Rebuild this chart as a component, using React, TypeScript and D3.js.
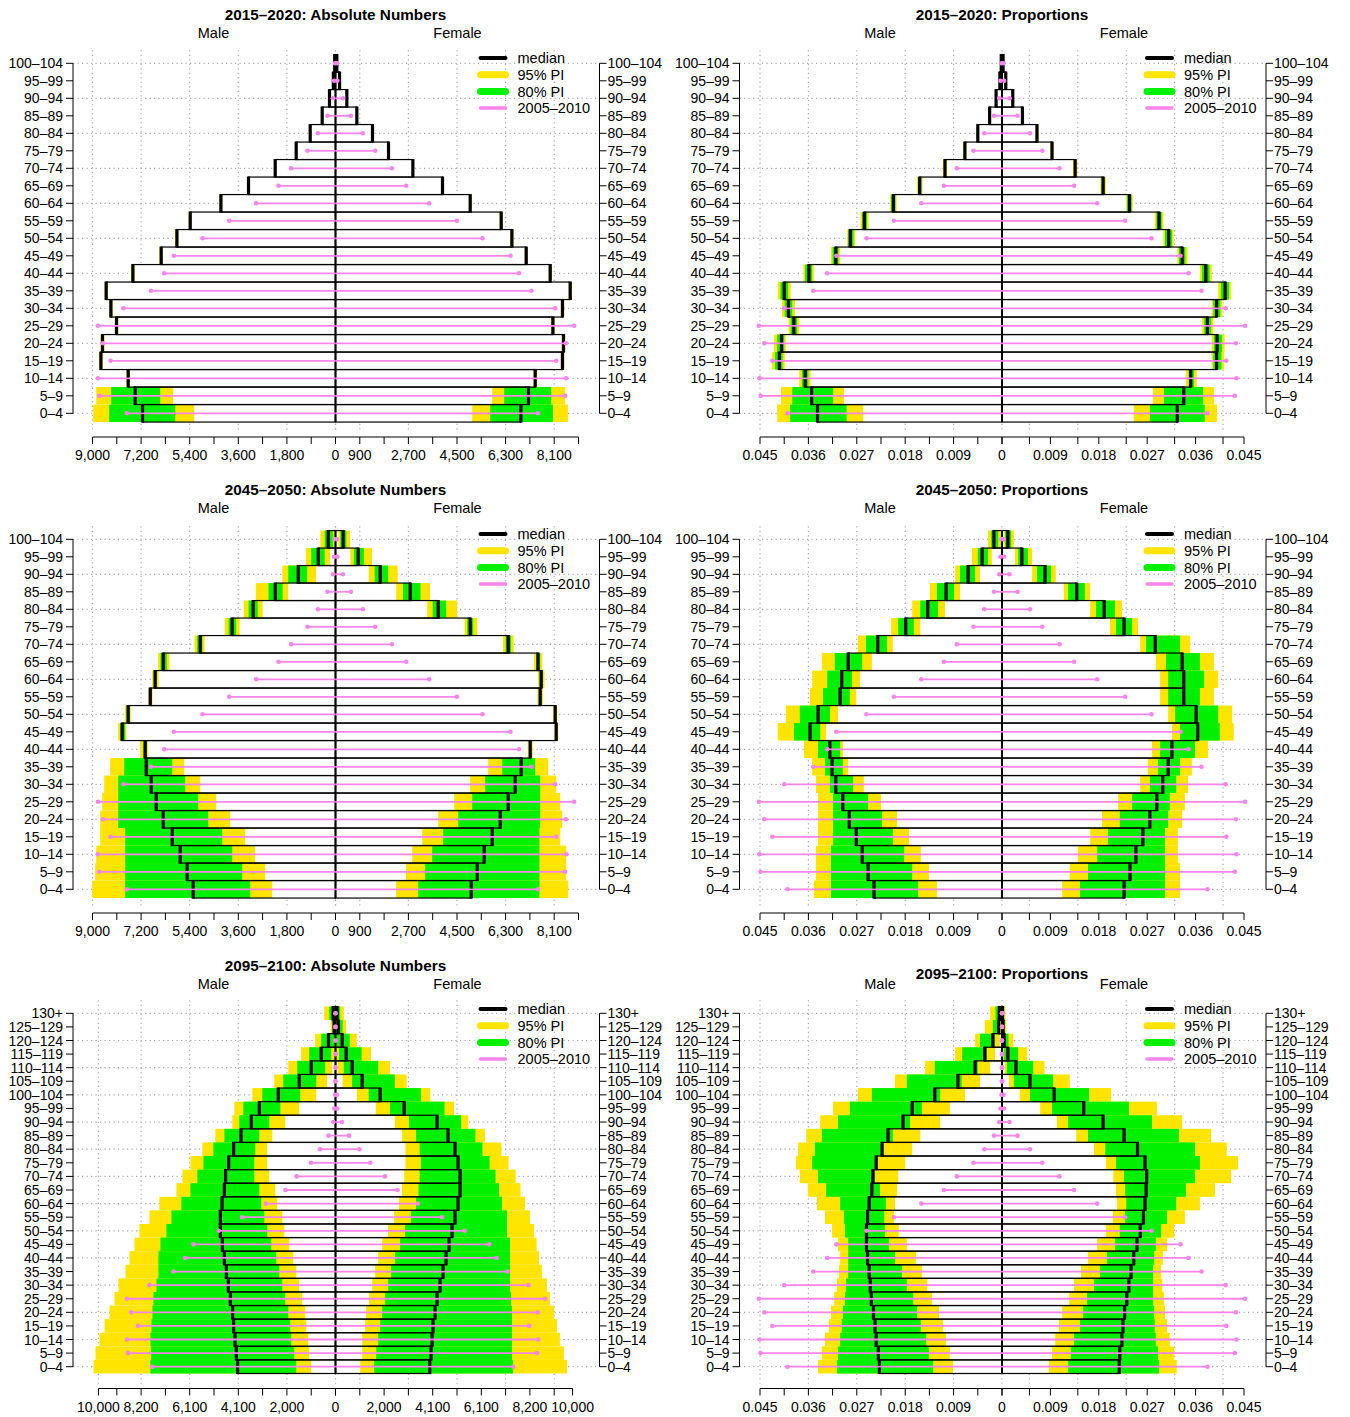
import React, { useRef, useEffect } from "react";
import * as d3 from "d3";

// age groups, youngest first
const ages21 = ["0–4", "5–9", "10–14", "15–19", "20–24", "25–29", "30–34", "35–39", "40–44", "45–49", "50–54",
  "55–59", "60–64", "65–69", "70–74", "75–79", "80–84", "85–89", "90–94", "95–99", "100–104"];
const ages27 = [...ages21, "105–109", "110–114", "115–119", "120–124", "125–129", "130+"];

// each row: [lower 95%, lower 80%, median, upper 80%, upper 95%]
const male2015Abs = [
  [5233, 5937, 7148, 8381, 8974], [6011, 6493, 7419, 8307, 8863], [7610, 7640, 7678, 7715, 7745],
  [8620, 8650, 8689, 8725, 8755], [8560, 8595, 8630, 8665, 8700], [8045, 8075, 8111, 8145, 8175],
  [8250, 8285, 8319, 8355, 8385], [8425, 8460, 8493, 8530, 8560], [7440, 7470, 7504, 7540, 7570],
  [6395, 6425, 6456, 6490, 6520], [5815, 5845, 5874, 5905, 5935], [5325, 5355, 5381, 5410, 5440],
  [4195, 4220, 4244, 4270, 4295], [3180, 3200, 3222, 3245, 3265], [2200, 2215, 2233, 2250, 2268],
  [1425, 1440, 1456, 1472, 1490], [910, 922, 937, 952, 965], [475, 484, 493, 502, 512],
  [210, 216, 222, 228, 235], [72, 76, 80, 85, 90], [25, 27, 30, 33, 36],
];
const female2015Abs = [
  [5063, 5730, 6867, 8052, 8607], [5804, 6248, 7148, 7989, 8507], [7330, 7360, 7396, 7430, 7460],
  [8340, 8375, 8407, 8440, 8470], [8375, 8410, 8444, 8480, 8510], [7985, 8020, 8052, 8085, 8115],
  [8340, 8375, 8407, 8440, 8470], [8625, 8660, 8693, 8725, 8755], [7890, 7920, 7952, 7985, 8015],
  [7005, 7035, 7063, 7095, 7125], [6475, 6505, 6533, 6560, 6590], [6080, 6110, 6137, 6165, 6195],
  [4940, 4965, 4989, 5015, 5040], [3920, 3940, 3963, 3985, 4005], [2830, 2848, 2866, 2885, 2902],
  [1930, 1947, 1963, 1980, 1996], [1340, 1355, 1370, 1385, 1400], [768, 779, 790, 801, 812],
  [405, 412, 420, 428, 436], [138, 144, 150, 156, 163], [42, 46, 50, 54, 58],
];
const male2015Prop = [
  [0.0258, 0.0289, 0.0343, 0.0394, 0.0418], [0.0294, 0.0314, 0.0354, 0.039, 0.0411], [0.0356, 0.036, 0.0366, 0.0372, 0.0377],
  [0.0404, 0.0408, 0.0414, 0.0422, 0.0428], [0.0402, 0.0405, 0.041, 0.0418, 0.0424], [0.0377, 0.0381, 0.0387, 0.0393, 0.0397],
  [0.0385, 0.039, 0.0397, 0.0404, 0.0409], [0.0393, 0.0398, 0.0405, 0.0412, 0.0417], [0.035, 0.0353, 0.0359, 0.0366, 0.0369],
  [0.0301, 0.0304, 0.0309, 0.0315, 0.0318], [0.0273, 0.0276, 0.0282, 0.0286, 0.0288], [0.0248, 0.0251, 0.0256, 0.026, 0.0263],
  [0.0196, 0.0198, 0.0202, 0.0206, 0.0208], [0.0148, 0.015, 0.0153, 0.0156, 0.0158], [0.0102, 0.0104, 0.0106, 0.0108, 0.011],
  [0.0066, 0.0067, 0.0069, 0.0071, 0.0072], [0.0043, 0.0044, 0.0045, 0.0046, 0.0047], [0.0022, 0.00225, 0.0023, 0.0024, 0.0025],
  [0.001, 0.00105, 0.0011, 0.00115, 0.0012], [0.00035, 0.00037, 0.0004, 0.00043, 0.00046], [0.0001, 0.00012, 0.00014, 0.00016, 0.00018],
];
const female2015Prop = [
  [0.0245, 0.0275, 0.0326, 0.0377, 0.04], [0.0281, 0.0301, 0.0338, 0.0374, 0.0394], [0.0342, 0.0347, 0.0351, 0.0357, 0.0362],
  [0.039, 0.0393, 0.0399, 0.0408, 0.0413], [0.039, 0.0394, 0.04, 0.0409, 0.0414], [0.0372, 0.0376, 0.0382, 0.0389, 0.0393],
  [0.039, 0.0393, 0.0399, 0.0406, 0.041], [0.0402, 0.0407, 0.0415, 0.0422, 0.0426], [0.0368, 0.0372, 0.0379, 0.0386, 0.039],
  [0.0326, 0.0329, 0.0335, 0.0341, 0.0345], [0.03, 0.0303, 0.031, 0.0316, 0.0319], [0.0284, 0.0287, 0.0292, 0.0297, 0.03],
  [0.0231, 0.0233, 0.0237, 0.0241, 0.0243], [0.0183, 0.0185, 0.0188, 0.0191, 0.0193], [0.0132, 0.0134, 0.0136, 0.0138, 0.014],
  [0.009, 0.0091, 0.0093, 0.0095, 0.0096], [0.0063, 0.0064, 0.0065, 0.0067, 0.0068], [0.0036, 0.0037, 0.0038, 0.0039, 0.004],
  [0.0019, 0.00195, 0.002, 0.0021, 0.0022], [0.0006, 0.00065, 0.0007, 0.00075, 0.0008], [0.00015, 0.00018, 0.0002, 0.00023, 0.00026],
];

const male2045Abs = [
  [2344, 3159, 5270, 7789, 9011], [2604, 3456, 5493, 7789, 8900], [2974, 3826, 5752, 7789, 8863],
  [3344, 4196, 6048, 7789, 8715], [3900, 4715, 6381, 8048, 8715], [4419, 5085, 6641, 8048, 8641],
  [5011, 5567, 6826, 8048, 8567], [5604, 6048, 7011, 7826, 8344], [6937, 7000, 7048, 7120, 7230],
  [7750, 7790, 7900, 7980, 8050], [7580, 7630, 7680, 7740, 7790], [6780, 6820, 6860, 6900, 6940],
  [6550, 6620, 6680, 6730, 6790], [6150, 6250, 6380, 6480, 6570], [4850, 4930, 5010, 5120, 5220],
  [3550, 3680, 3830, 3960, 4100], [2700, 2880, 3050, 3220, 3400], [1750, 1960, 2230, 2480, 2950],
  [720, 1050, 1380, 1750, 1970], [200, 400, 640, 900, 1100], [20, 100, 270, 400, 560],
];
const female2045Abs = [
  [2241, 3063, 5026, 7552, 8619], [2611, 3322, 5248, 7552, 8544], [2841, 3581, 5507, 7552, 8544],
  [3211, 3989, 5804, 7552, 8322], [3804, 4544, 6100, 7581, 8396], [4396, 5063, 6396, 7581, 8322],
  [4989, 5544, 6656, 7581, 8174], [5656, 6174, 6878, 7396, 7878], [7120, 7170, 7211, 7260, 7300],
  [8110, 8150, 8174, 8210, 8250], [8060, 8100, 8137, 8170, 8210], [7480, 7530, 7581, 7630, 7680],
  [7500, 7560, 7619, 7680, 7740], [7350, 7430, 7500, 7580, 7660], [6200, 6300, 6396, 6500, 6600],
  [4780, 4880, 4989, 5100, 5250], [3400, 3600, 3804, 4100, 4500], [2250, 2500, 2767, 3150, 3500],
  [1230, 1450, 1656, 1950, 2300], [550, 680, 840, 1050, 1350], [110, 180, 285, 400, 540],
];
const male2045Prop = [
  [0.0121, 0.0156, 0.0238, 0.0318, 0.035], [0.0136, 0.0167, 0.0249, 0.0318, 0.0346], [0.0151, 0.0182, 0.026, 0.0318, 0.0346],
  [0.0173, 0.0203, 0.0271, 0.0314, 0.0342], [0.0195, 0.0223, 0.0284, 0.0314, 0.0342], [0.0225, 0.0249, 0.0296, 0.0314, 0.0342],
  [0.0257, 0.0277, 0.0309, 0.032, 0.0346], [0.0286, 0.0296, 0.0316, 0.0329, 0.0353], [0.0296, 0.0301, 0.032, 0.0342, 0.0368],
  [0.0327, 0.0338, 0.0357, 0.0387, 0.0417], [0.0305, 0.032, 0.0342, 0.0376, 0.0402], [0.0271, 0.0283, 0.0301, 0.0333, 0.0357],
  [0.0264, 0.0279, 0.0298, 0.0325, 0.0353], [0.0242, 0.026, 0.0286, 0.0311, 0.0335], [0.0203, 0.0214, 0.0231, 0.0253, 0.0268],
  [0.0152, 0.0164, 0.0179, 0.0193, 0.0206], [0.0106, 0.0119, 0.0138, 0.0152, 0.0167], [0.0078, 0.0089, 0.0104, 0.0121, 0.0134],
  [0.0041, 0.005, 0.0063, 0.0078, 0.0087], [0.0019, 0.0026, 0.0037, 0.0045, 0.0056], [0.0001, 0.0007, 0.0015, 0.002, 0.0026],
];
const female2045Prop = [
  [0.0112, 0.0145, 0.0227, 0.0303, 0.0331], [0.0126, 0.016, 0.0238, 0.0303, 0.0331], [0.0141, 0.0177, 0.0249, 0.0303, 0.0327],
  [0.0164, 0.0197, 0.0262, 0.0303, 0.0327], [0.0186, 0.0219, 0.0275, 0.0309, 0.0335], [0.0216, 0.0242, 0.0288, 0.0312, 0.034],
  [0.0257, 0.0275, 0.0299, 0.0324, 0.0346], [0.0271, 0.029, 0.0309, 0.0331, 0.0353], [0.0279, 0.0294, 0.0316, 0.0359, 0.0383],
  [0.0316, 0.0331, 0.0364, 0.0405, 0.0431], [0.0309, 0.0322, 0.0361, 0.0402, 0.0428], [0.0294, 0.0309, 0.0338, 0.0368, 0.0394],
  [0.0294, 0.0309, 0.0338, 0.0376, 0.0402], [0.0286, 0.0305, 0.0335, 0.0368, 0.0394], [0.0257, 0.0268, 0.0285, 0.0331, 0.035],
  [0.0201, 0.0212, 0.0227, 0.0242, 0.0253], [0.0164, 0.0175, 0.019, 0.021, 0.0223], [0.0115, 0.0123, 0.0139, 0.0154, 0.0164],
  [0.0056, 0.0065, 0.008, 0.0091, 0.01], [0.0024, 0.003, 0.0037, 0.0048, 0.0056], [0.0004, 0.0006, 0.0011, 0.0017, 0.0022],
];

const male2095Abs = [
  [1024, 1656, 4128, 7806, 10206], [1108, 1740, 4183, 7776, 10122], [1150, 1866, 4238, 7806, 9954],
  [1234, 1908, 4297, 7763, 9743], [1276, 1992, 4339, 7721, 9533], [1403, 2119, 4436, 7679, 9322],
  [1529, 2245, 4520, 7553, 9154], [1655, 2372, 4604, 7468, 8859], [1782, 2498, 4688, 7468, 8690],
  [1950, 2709, 4773, 7384, 8479], [2161, 2877, 4857, 7132, 8269], [2245, 3003, 4857, 6921, 7848],
  [2456, 3130, 4785, 6500, 7426], [2540, 3214, 4688, 6120, 6710], [2793, 3425, 4634, 5826, 6458],
  [2877, 3425, 4507, 5573, 6121], [2877, 3383, 4297, 5152, 5615], [2667, 3214, 3985, 4688, 5067],
  [2119, 2793, 3551, 4057, 4351], [1529, 2329, 3214, 3888, 4267], [813, 1487, 2414, 3088, 3509],
  [350, 813, 1529, 2203, 2582], [139, 434, 1024, 1613, 1992], [20, 181, 602, 1108, 1445],
  [5, 50, 295, 602, 855], [2, 10, 60, 120, 200], [2, 20, 100, 265, 476],
];
const female2095Abs = [
  [1040, 1630, 3976, 7485, 9760], [1125, 1714, 4031, 7443, 9633], [1125, 1799, 4073, 7443, 9465],
  [1251, 1883, 4115, 7443, 9339], [1293, 1967, 4200, 7443, 9212], [1420, 2094, 4284, 7401, 9044],
  [1546, 2220, 4410, 7359, 8918], [1672, 2346, 4537, 7359, 8707], [1799, 2515, 4663, 7359, 8581],
  [1967, 2725, 4790, 7359, 8480], [2220, 2936, 4916, 7233, 8370], [2473, 3189, 5042, 7233, 8202],
  [2683, 3399, 5169, 7022, 7991], [2800, 3500, 5253, 6900, 7800], [2900, 3550, 5253, 6750, 7600],
  [2950, 3600, 5169, 6500, 7300], [2950, 3550, 5042, 6200, 7000], [2800, 3400, 4747, 5900, 6300],
  [2500, 3100, 4283, 5300, 5600], [1700, 2300, 2896, 4600, 5000], [900, 1400, 1882, 3600, 4000],
  [300, 700, 1124, 2500, 3000], [100, 350, 703, 1800, 2300], [30, 150, 450, 1100, 1500],
  [10, 60, 282, 600, 900], [3, 20, 120, 300, 450], [2, 10, 70, 200, 350],
];
const male2095Prop = [
  [0.0091, 0.0128, 0.0228, 0.0307, 0.0342], [0.0097, 0.0136, 0.023, 0.0305, 0.0335], [0.0104, 0.0141, 0.0234, 0.0301, 0.0329],
  [0.011, 0.0151, 0.0236, 0.0298, 0.0322], [0.0117, 0.0158, 0.0239, 0.0296, 0.0318], [0.013, 0.0165, 0.0243, 0.0292, 0.0312],
  [0.0139, 0.0177, 0.0245, 0.029, 0.0307], [0.0149, 0.0186, 0.0247, 0.0286, 0.0303], [0.016, 0.0199, 0.025, 0.0286, 0.0301],
  [0.0177, 0.021, 0.0252, 0.0286, 0.0305], [0.0192, 0.0218, 0.0252, 0.0292, 0.0316], [0.0201, 0.0219, 0.025, 0.0294, 0.0329],
  [0.0199, 0.0216, 0.0247, 0.0301, 0.0344], [0.0195, 0.0227, 0.0242, 0.0327, 0.0361], [0.0193, 0.0236, 0.024, 0.0342, 0.0376],
  [0.018, 0.0231, 0.0234, 0.0353, 0.0383], [0.0167, 0.0221, 0.0223, 0.0348, 0.0379], [0.0152, 0.0203, 0.0212, 0.0335, 0.0364],
  [0.0115, 0.0171, 0.0184, 0.0305, 0.0338], [0.0097, 0.0149, 0.0167, 0.0283, 0.0314], [0.0069, 0.0115, 0.0125, 0.0242, 0.0268],
  [0.0041, 0.0075, 0.0082, 0.0177, 0.0199], [0.0022, 0.0045, 0.005, 0.0125, 0.0143], [0.0013, 0.0028, 0.0032, 0.0074, 0.0087],
  [0.0004, 0.0013, 0.0017, 0.0041, 0.005], [0.0001, 0.0004, 0.0006, 0.0017, 0.0032], [0.0001, 0.0003, 0.0005, 0.0012, 0.0022],
];
const female2095Prop = [
  [0.0087, 0.0123, 0.0218, 0.0292, 0.0325], [0.0093, 0.0128, 0.0219, 0.029, 0.032], [0.0099, 0.0134, 0.0223, 0.0286, 0.0312],
  [0.0106, 0.0145, 0.0225, 0.0284, 0.0307], [0.0112, 0.0151, 0.0228, 0.0283, 0.0303], [0.0125, 0.0158, 0.0232, 0.0281, 0.0301],
  [0.0134, 0.0171, 0.0236, 0.0281, 0.0298], [0.0147, 0.0182, 0.024, 0.0281, 0.0296], [0.016, 0.0195, 0.0245, 0.0283, 0.0299],
  [0.0177, 0.021, 0.0251, 0.0286, 0.0307], [0.0193, 0.0219, 0.0257, 0.0296, 0.032], [0.0206, 0.0229, 0.0263, 0.0307, 0.034],
  [0.0214, 0.0231, 0.0266, 0.0324, 0.0368], [0.0212, 0.0229, 0.0268, 0.0342, 0.0396], [0.0207, 0.0227, 0.0269, 0.0359, 0.0426],
  [0.0193, 0.0212, 0.0266, 0.0368, 0.0439], [0.0171, 0.0192, 0.0252, 0.0359, 0.0418], [0.0138, 0.016, 0.0227, 0.0329, 0.0389],
  [0.0102, 0.0123, 0.0188, 0.0279, 0.0335], [0.0071, 0.0093, 0.0152, 0.0236, 0.0288], [0.0033, 0.0052, 0.0097, 0.0162, 0.0203],
  [0.0013, 0.0022, 0.0052, 0.0095, 0.0126], [0.0005, 0.0009, 0.0026, 0.0058, 0.0079], [0.0002, 0.0004, 0.0011, 0.003, 0.0047],
  [0.0001, 0.0002, 0.0004, 0.0012, 0.0021], [0.00005, 0.0001, 0.0002, 0.0005, 0.0008], [0.00003, 0.00005, 0.0001, 0.0003, 0.0006],
];

// 2005–2010 comparison, 0–4 .. 100–104
const malePastAbs = [7726, 8752, 8800, 8333, 8615, 8800, 7852, 6837, 6344, 5985, 4926, 3937, 2937, 2111, 1641, 1037, 652, 296, 96, 50, 20];
const femalePastAbs = [7496, 8507, 8544, 8174, 8533, 8841, 8137, 7259, 6793, 6481, 5444, 4496, 3470, 2619, 2089, 1470, 1015, 570, 274, 70, 60];
const malePastProp = [0.0399, 0.0449, 0.0451, 0.0427, 0.0442, 0.0452, 0.0405, 0.0351, 0.0325, 0.0308, 0.0252, 0.0201, 0.015, 0.0108, 0.0084, 0.0053, 0.0033, 0.0015, 0.0005, 0.0003, 0.0001];
const femalePastProp = [0.0382, 0.0433, 0.0436, 0.0417, 0.0435, 0.0452, 0.0416, 0.0371, 0.0347, 0.0332, 0.0278, 0.0229, 0.0177, 0.0134, 0.0107, 0.0075, 0.0052, 0.0029, 0.0014, 0.0004, 0.0003];

// x-axis ticks, labels and grid positions
const absTicks = [0, 900, 1800, 2700, 3600, 4500, 5400, 6300, 7200, 8100, 9000];
const absLeftLabels = [0, 1800, 3600, 5400, 7200, 9000];
const absRightLabels = [0, 900, 2700, 4500, 6300, 8100];
const abs95Ticks = [0, 1025, 2050, 3075, 4100, 5125, 6150, 7175, 8200, 9225, 10000];
const abs95Labels = [0, 2050, 4100, 6150, 8200, 10000];
const abs95LabelText = ["0", "2,000", "4,100", "6,100", "8,200", "10,000"];
const abs95RightGrid = [1025, 3075, 5125, 7175, 9225];
const propLeftTicks = [0, 0.0045, 0.009, 0.0135, 0.018, 0.0225, 0.027, 0.0315, 0.036, 0.0405, 0.045];
const propLabels = [0, 0.009, 0.018, 0.027, 0.036, 0.045];
const propRightExtra = [0.0051, 0.0141, 0.0231, 0.0321, 0.0411];

const YELLOW = "#FFE400";
const GREEN = "#00F000";
const PINK = "#F985EC";
const FONT = "'Liberation Sans', Arial, Helvetica, sans-serif";

const commaFmt = d3.format(",");
const propFmt = (v) => (v === 0 ? "0" : v.toFixed(3));

const rowGeo = [
  { titleY: 14, subY: 33, topY: 63.3, botY: 413.3, axisY: 437, legY: 58 },
  { titleY: 489, subY: 508, topY: 539.3, botY: 889.3, axisY: 913, legY: 534 },
  { titleY: 965, subY: 984, topY: 1013.3, botY: 1366.7, axisY: 1388.5, legY: 1009 },
];

const absSet = {
  xmax: 9000, half: 243,
  leftTicks: absTicks, rightTicks: absTicks,
  leftLabels: absLeftLabels.map((v) => [v, commaFmt(v)]),
  rightLabels: absRightLabels.map((v) => [v, commaFmt(v)]),
  leftGrid: absLeftLabels, rightGrid: absRightLabels,
};
const abs95Set = {
  xmax: 10250, half: 243,
  leftTicks: abs95Ticks, rightTicks: abs95Ticks,
  leftLabels: abs95Labels.map((v, i) => [v, abs95LabelText[i]]),
  rightLabels: abs95Labels.map((v, i) => [v, abs95LabelText[i]]),
  leftGrid: abs95Labels, rightGrid: abs95RightGrid,
};
const propSet = {
  xmax: 0.045, half: 242,
  leftTicks: propLeftTicks, rightTicks: [...propLabels, ...propRightExtra],
  leftLabels: propLabels.map((v) => [v, propFmt(v)]),
  rightLabels: propLabels.map((v) => [v, propFmt(v)]),
  leftGrid: propLabels, rightGrid: propRightExtra,
};

const panels = [
  { title: "2015–2020: Absolute Numbers", cx: 335.5, row: 0, axes: absSet, ages: ages21, male: male2015Abs, female: female2015Abs, pastM: malePastAbs, pastF: femalePastAbs },
  { title: "2015–2020: Proportions", cx: 1002, row: 0, axes: propSet, ages: ages21, male: male2015Prop, female: female2015Prop, pastM: malePastProp, pastF: femalePastProp },
  { title: "2045–2050: Absolute Numbers", cx: 335.5, row: 1, axes: absSet, ages: ages21, male: male2045Abs, female: female2045Abs, pastM: malePastAbs, pastF: femalePastAbs },
  { title: "2045–2050: Proportions", cx: 1002, row: 1, axes: propSet, ages: ages21, male: male2045Prop, female: female2045Prop, pastM: malePastProp, pastF: femalePastProp },
  { title: "2095–2100: Absolute Numbers", cx: 335.5, row: 2, axes: abs95Set, ages: ages27, male: male2095Abs, female: female2095Abs, pastM: malePastAbs, pastF: femalePastAbs },
  { title: "2095–2100: Proportions", cx: 1002, row: 2, titleShift: 8, axes: propSet, ages: ages27, male: male2095Prop, female: female2095Prop, pastM: malePastProp, pastF: femalePastProp },
];

function drawPanel(g, p) {
  const geo = rowGeo[p.row];
  const ax = p.axes;
  const x = d3.scaleLinear().domain([-ax.xmax, ax.xmax]).range([p.cx - ax.half, p.cx + ax.half]);
  const n = p.ages.length;
  const y = d3.scaleLinear().domain([0, n - 1]).range([geo.botY, geo.topY]);
  const step = (geo.botY - geo.topY) / (n - 1);
  const axL = p.cx - 262.5;
  const axR = p.cx + 264;
  const x0 = x(0);

  // dotted grid
  const grid = g.append("g").attr("stroke", "#ababab").attr("stroke-width", 1.2).attr("stroke-dasharray", "1.2,3.3");
  const gx = [...ax.leftGrid.map((v) => -v), ...ax.rightGrid];
  grid.selectAll("line.v").data(gx).join("line")
    .attr("x1", (v) => x(v)).attr("x2", (v) => x(v))
    .attr("y1", geo.topY - 13).attr("y2", geo.botY + 17);
  grid.selectAll("line.h").data(d3.range(0, n, 2)).join("line")
    .attr("x1", axL).attr("x2", axR)
    .attr("y1", (i) => y(i)).attr("y2", (i) => y(i));

  const sides = [
    { rows: p.male, past: p.pastM, s: -1 },
    { rows: p.female, past: p.pastF, s: 1 },
  ];

  sides.forEach(({ rows, s }) => {
    const sx = (v) => x(s * v);
    g.append("g").selectAll("rect").data(rows).join("rect")
      .attr("x", (d) => Math.min(sx(d[2]), x0)).attr("width", (d) => Math.abs(sx(d[2]) - x0))
      .attr("y", (d, i) => y(i) - step / 2).attr("height", step).attr("fill", "#fff");
    g.append("g").selectAll("rect").data(rows).join("rect")
      .attr("x", (d) => Math.min(sx(d[0]), sx(d[4]))).attr("width", (d) => Math.abs(sx(d[4]) - sx(d[0])))
      .attr("y", (d, i) => y(i) - step / 2).attr("height", step).attr("fill", YELLOW);
    g.append("g").selectAll("rect").data(rows).join("rect")
      .attr("x", (d) => Math.min(sx(d[1]), sx(d[3]))).attr("width", (d) => Math.abs(sx(d[3]) - sx(d[1])))
      .attr("y", (d, i) => y(i) - step / 2).attr("height", step).attr("fill", GREEN);
  });

  sides.forEach(({ rows, s }) => {
    const sx = (v) => x(s * v);
    g.append("g").selectAll("rect").data(rows).join("rect")
      .attr("x", (d) => Math.min(sx(d[2]), x0)).attr("width", (d) => Math.abs(sx(d[2]) - x0))
      .attr("y", (d, i) => y(i) - step / 2).attr("height", step)
      .attr("fill", "none").attr("stroke", "#000").attr("stroke-width", 1.2);
    g.append("g").selectAll("line").data(rows).join("line")
      .attr("x1", (d) => sx(d[2])).attr("x2", (d) => sx(d[2]))
      .attr("y1", (d, i) => y(i) - step / 2 - 0.5).attr("y2", (d, i) => y(i) + step / 2 + 0.5)
      .attr("stroke", "#000").attr("stroke-width", 3.2);
  });

  // centre line
  g.append("line").attr("x1", x0).attr("x2", x0)
    .attr("y1", geo.topY - step / 2).attr("y2", geo.botY + step / 2)
    .attr("stroke", "#000").attr("stroke-width", 2);

  // 2005–2010 comparison
  sides.forEach(({ past, s }) => {
    const vals = p.ages.map((a, i) => past[i] ?? 0);
    const pg = g.append("g");
    pg.selectAll("line").data(vals).join("line")
      .attr("x1", x0).attr("x2", (v) => x(s * v))
      .attr("y1", (v, i) => y(i)).attr("y2", (v, i) => y(i))
      .attr("stroke", PINK).attr("stroke-width", 1.8);
    pg.selectAll("circle").data(vals).join("circle")
      .attr("cx", (v) => x(s * v)).attr("cy", (v, i) => y(i)).attr("r", 2.3).attr("fill", PINK);
  });

  // age axes
  const ageAxis = (axX, dir) => {
    const a = g.append("g");
    a.append("line").attr("x1", axX).attr("x2", axX).attr("y1", geo.topY).attr("y2", geo.botY)
      .attr("stroke", "#000").attr("stroke-width", 1);
    a.selectAll("line.t").data(p.ages).join("line")
      .attr("x1", axX).attr("x2", axX + dir * 7)
      .attr("y1", (d, i) => y(i)).attr("y2", (d, i) => y(i)).attr("stroke", "#000");
    a.selectAll("text").data(p.ages).join("text")
      .attr("x", axX + dir * (dir < 0 ? 10 : 8)).attr("y", (d, i) => y(i)).attr("dy", "0.36em")
      .attr("text-anchor", dir < 0 ? "end" : "start")
      .attr("font-size", 14).attr("font-family", FONT).text((d) => d);
  };
  ageAxis(axL, -1);
  ageAxis(axR, 1);

  // value axis
  const xa = g.append("g");
  xa.append("line").attr("x1", x(-ax.leftTicks[ax.leftTicks.length - 1])).attr("x2", x(ax.rightTicks.reduce((m, v) => Math.max(m, v), 0)))
    .attr("y1", geo.axisY).attr("y2", geo.axisY).attr("stroke", "#000");
  const allTicks = [...ax.leftTicks.map((v) => -v), ...ax.rightTicks];
  xa.selectAll("line.t").data(allTicks).join("line")
    .attr("x1", (v) => x(v)).attr("x2", (v) => x(v))
    .attr("y1", geo.axisY).attr("y2", geo.axisY + 7).attr("stroke", "#000");
  const labs = [...ax.leftLabels.map(([v, t]) => [-v, t]), ...ax.rightLabels.filter(([v]) => v !== 0)];
  xa.selectAll("text").data(labs).join("text")
    .attr("x", (d) => x(d[0])).attr("y", geo.axisY + 18).attr("dy", "0.36em")
    .attr("text-anchor", "middle").attr("font-size", 14).attr("font-family", FONT).text((d) => d[1]);

  // titles
  g.append("text").attr("x", p.cx).attr("y", geo.titleY + (p.titleShift || 0)).attr("dy", "0.36em")
    .attr("text-anchor", "middle").attr("font-weight", "bold").attr("font-size", 15.3)
    .attr("font-family", FONT).text(p.title);
  [["Male", -122], ["Female", 122]].forEach(([t, dx]) => {
    g.append("text").attr("x", p.cx + dx).attr("y", geo.subY).attr("dy", "0.36em")
      .attr("text-anchor", "middle").attr("font-size", 14.5).attr("font-family", FONT).text(t);
  });

  // legend
  const legend = [
    { label: "median", color: "#000", w: 4 },
    { label: "95% PI", color: YELLOW, w: 7 },
    { label: "80% PI", color: GREEN, w: 7 },
    { label: "2005–2010", color: PINK, w: 3.5 },
  ];
  const lg = g.append("g");
  legend.forEach((d, k) => {
    const ly = geo.legY + k * 16.7;
    lg.append("line").attr("x1", p.cx + 145).attr("x2", p.cx + 170).attr("y1", ly).attr("y2", ly)
      .attr("stroke", d.color).attr("stroke-width", d.w).attr("stroke-linecap", "round");
    lg.append("text").attr("x", p.cx + 182).attr("y", ly).attr("dy", "0.36em")
      .attr("font-size", 14.5).attr("font-family", FONT).text(d.label);
  });
}

const App = () => {
  const svgRef = useRef();

  useEffect(() => {
    document.body.style.margin = "0";
    const svg = d3.select(svgRef.current);
    svg.selectAll("*").remove();
    svg.append("rect").attr("width", 1350).attr("height", 1417).attr("fill", "#fff");
    panels.forEach((p) => drawPanel(svg.append("g"), p));
  }, []);

  return <svg ref={svgRef} width={1350} height={1417} style={{ display: "block" }}></svg>;
};

export default App;
